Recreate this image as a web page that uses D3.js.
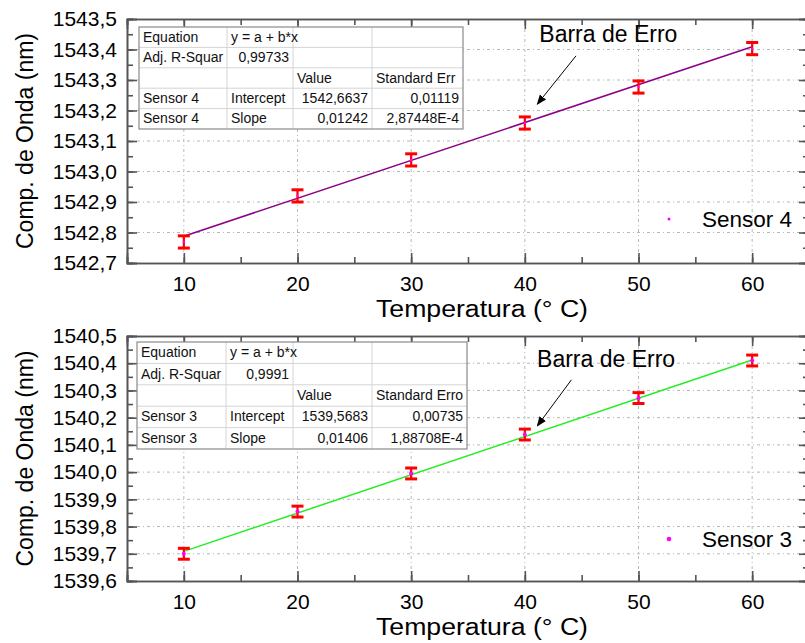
<!DOCTYPE html>
<html>
<head>
<meta charset="utf-8">
<script src="https://cdn.jsdelivr.net/npm/d3@7"></script>
<style>
  body { margin: 0; background: #fff; }
  text { font-family: "Liberation Sans", Arial, sans-serif; }
</style>
</head>
<body>
<div class="chart"></div>
<script>
// data
var temps = [10, 20, 30, 40, 50, 60];
var sensor4 = [1542.769, 1542.920, 1543.038, 1543.159, 1543.277, 1543.403];
var sensor4Err = [0.02, 0.02, 0.02, 0.02, 0.02, 0.02];
var sensor3 = [1539.700, 1539.855, 1539.995, 1540.138, 1540.272, 1540.410];
var sensor3Err = [0.02, 0.02, 0.02, 0.02, 0.02, 0.02];

// linear fit results (intercept, slope)
var fit4 = [1542.6637, 0.01242];
var fit3 = [1539.5683, 0.01406];

var xTicks = [10, 20, 30, 40, 50, 60];
var yTicks4 = [1542.7, 1542.8, 1542.9, 1543.0, 1543.1, 1543.2, 1543.3, 1543.4, 1543.5];
var yTicks3 = [1539.6, 1539.7, 1539.8, 1539.9, 1540.0, 1540.1, 1540.2, 1540.3, 1540.4, 1540.5];

var table4 = [
  ["Equation", "y = a + b*x", "", ""],
  ["Adj. R-Squar", "0,99733", "", ""],
  ["", "", "Value", "Standard Err"],
  ["Sensor 4", "Intercept", "1542,6637", "0,01119"],
  ["Sensor 4", "Slope", "0,01242", "2,87448E-4"]
];
var table3 = [
  ["Equation", "y = a + b*x", "", ""],
  ["Adj. R-Squar", "0,9991", "", ""],
  ["", "", "Value", "Standard Erro"],
  ["Sensor 3", "Intercept", "1539,5683", "0,00735"],
  ["Sensor 3", "Slope", "0,01406", "1,88708E-4"]
];

var svgWidth = 805, svgHeight = 643;
var svg = d3.select(".chart").append("svg")
  .attr("width", svgWidth)
  .attr("height", svgHeight);

var fmtY = function(d) { return d3.format(".1f")(d).replace(".", ","); };

function drawPanel(cfg) {
  var x = d3.scaleLinear().domain([5, 65]).range([127, 809]);
  var y = d3.scaleLinear().domain(cfg.yDomain).range([cfg.bottom, cfg.top]);
  var g = svg.append("g");

  // grid
  g.append("g").selectAll("line").data(xTicks).enter().append("line")
    .attr("x1", d => x(d)).attr("x2", d => x(d))
    .attr("y1", cfg.top).attr("y2", cfg.bottom)
    .attr("stroke", "#b8b8b8").attr("stroke-dasharray", "3,3,1,3");
  g.append("g").selectAll("line").data(cfg.yTicks.slice(1, -1)).enter().append("line")
    .attr("x1", 127).attr("x2", 809)
    .attr("y1", d => y(d)).attr("y2", d => y(d))
    .attr("stroke", "#b8b8b8").attr("stroke-dasharray", "3,3,1,3");

  // axes, ticks pointing inward
  var xMinor = d3.range(5, 66, 5);
  var yStep = 0.05;
  var yMinor = d3.range(0, Math.round((cfg.yDomain[1] - cfg.yDomain[0]) / yStep) + 1)
    .map(i => cfg.yDomain[0] + i * yStep);

  var bottomAxis = d3.axisBottom(x).tickValues(xTicks).tickSize(-10).tickPadding(13).tickFormat(d3.format("d"));
  var bottomMinor = d3.axisBottom(x).tickValues(xMinor).tickSize(-6).tickFormat("");
  var topAxis = d3.axisTop(x).tickValues(xTicks).tickSize(-10).tickFormat("");
  var topMinor = d3.axisTop(x).tickValues(xMinor).tickSize(-6).tickFormat("");
  var leftAxis = d3.axisLeft(y).tickValues(cfg.yTicks).tickSize(-10).tickPadding(10).tickFormat(fmtY);
  var leftMinor = d3.axisLeft(y).tickValues(yMinor).tickSize(-6).tickFormat("");
  var rightAxis = d3.axisRight(y).tickValues(cfg.yTicks).tickSize(-10).tickFormat("");
  var rightMinor = d3.axisRight(y).tickValues(yMinor).tickSize(-6).tickFormat("");

  function put(axis, tr) {
    var a = g.append("g").attr("transform", tr).call(axis);
    a.selectAll("path, line").attr("stroke", "#555").attr("stroke-width", 1.6);
    a.selectAll("text").attr("font-size", 21).attr("fill", "#000")
      .style("font-family", '"Liberation Sans", Arial, sans-serif');
    return a;
  }
  put(topMinor, "translate(0," + cfg.top + ")");
  put(topAxis, "translate(0," + cfg.top + ")");
  put(rightMinor, "translate(809,0)");
  put(rightAxis, "translate(809,0)");
  put(bottomMinor, "translate(0," + cfg.bottom + ")");
  put(bottomAxis, "translate(0," + cfg.bottom + ")");
  put(leftMinor, "translate(127,0)");
  put(leftAxis, "translate(127,0)");

  // axis titles
  g.append("text")
    .attr("transform", "translate(33," + ((cfg.top + cfg.bottom) / 2) + ") rotate(-90)")
    .attr("text-anchor", "middle").attr("font-size", 23)
    .text("Comp. de Onda (nm)");
  g.append("text")
    .attr("x", 482).attr("y", cfg.bottom + 54)
    .attr("text-anchor", "middle").attr("font-size", 23)
    .attr("textLength", 212).attr("lengthAdjust", "spacingAndGlyphs")
    .text("Temperatura (° C)");

  // fit line
  var fitLine = d3.line().x(d => x(d)).y(d => y(cfg.fit[0] + cfg.fit[1] * d));
  g.append("path").datum([temps[0], temps[temps.length - 1]])
    .attr("d", fitLine).attr("fill", "none")
    .attr("stroke", cfg.color).attr("stroke-width", 1.5);

  // error bars
  var pts = temps.map((t, i) => ({ t: t, v: cfg.values[i], e: cfg.errs[i] }));
  var eb = g.append("g").selectAll("g").data(pts).enter().append("g");
  eb.append("line")
    .attr("x1", d => x(d.t)).attr("x2", d => x(d.t))
    .attr("y1", d => y(d.v - d.e)).attr("y2", d => y(d.v + d.e))
    .attr("stroke", "#ff0000").attr("stroke-width", 2.2);
  eb.append("line")
    .attr("x1", d => x(d.t) - 6).attr("x2", d => x(d.t) + 6)
    .attr("y1", d => y(d.v - d.e)).attr("y2", d => y(d.v - d.e))
    .attr("stroke", "#ff0000").attr("stroke-width", 3);
  eb.append("line")
    .attr("x1", d => x(d.t) - 6).attr("x2", d => x(d.t) + 6)
    .attr("y1", d => y(d.v + d.e)).attr("y2", d => y(d.v + d.e))
    .attr("stroke", "#ff0000").attr("stroke-width", 3);
  eb.append("circle")
    .attr("cx", d => x(d.t)).attr("cy", d => y(d.v))
    .attr("r", cfg.dot).attr("fill", "#ff00ff");

  // legend
  g.append("circle").attr("cx", 669).attr("cy", cfg.legendY).attr("r", cfg.dot + 0.3).attr("fill", "#ff00ff");
  g.append("text").attr("x", 702).attr("y", cfg.legendY + 8).attr("font-size", 22.5).text(cfg.label);

  // annotation
  g.append("text").attr("x", x(cfg.note[0]) + 2).attr("y", y(cfg.note[1]))
    .attr("font-size", 23).text("Barra de Erro");
  g.append("line")
    .attr("x1", x(cfg.arrow[0])).attr("y1", y(cfg.arrow[1]))
    .attr("x2", x(cfg.arrow[2])).attr("y2", y(cfg.arrow[3]))
    .attr("stroke", "#000").attr("stroke-width", 1).attr("marker-end", "url(#arrow)");

  // fit table
  var tb = g.append("g").attr("transform", "translate(" + cfg.tableX + "," + cfg.tableY + ")");
  var colX = [0];
  cfg.colW.forEach(w => colX.push(colX[colX.length - 1] + w));
  var W = colX[colX.length - 1], H = cfg.rowH * cfg.table.length;
  tb.append("rect").attr("width", W).attr("height", H).attr("fill", "#fff");
  for (var r = 1; r < cfg.table.length; r++) {
    tb.append("line").attr("x1", 0).attr("x2", W).attr("y1", r * cfg.rowH).attr("y2", r * cfg.rowH)
      .attr("stroke", "#d4d4d4");
  }
  for (var c = 1; c < 4; c++) {
    tb.append("line").attr("x1", colX[c]).attr("x2", colX[c]).attr("y1", 0).attr("y2", H)
      .attr("stroke", "#d4d4d4");
  }
  tb.append("rect").attr("width", W).attr("height", H).attr("fill", "none")
    .attr("stroke", "#8a8a8a").attr("stroke-width", 1.2);
  cfg.table.forEach(function(row, ri) {
    row.forEach(function(cell, ci) {
      if (!cell) return;
      var rightAlign = /^[0-9]/.test(cell);
      tb.append("text")
        .attr("x", rightAlign ? colX[ci + 1] - 4 : colX[ci] + 4)
        .attr("y", ri * cfg.rowH + cfg.rowH / 2 + 4.5)
        .attr("text-anchor", rightAlign ? "end" : "start")
        .attr("font-size", 14).attr("fill", "#111")
        .text(cell);
    });
  });
}

svg.append("defs").append("marker")
  .attr("id", "arrow").attr("viewBox", "0 0 10 10")
  .attr("refX", 9).attr("refY", 5)
  .attr("markerWidth", 10).attr("markerHeight", 10)
  .attr("markerUnits", "userSpaceOnUse")
  .attr("orient", "auto")
  .append("path").attr("d", "M0,1 L10,5 L0,9 Z").attr("fill", "#000");

drawPanel({
  top: 19, bottom: 263, yDomain: [1542.7, 1543.5], yTicks: yTicks4,
  values: sensor4, errs: sensor4Err, fit: fit4, color: "#8b008b", dot: 1.2,
  label: "Sensor 4", legendY: 219,
  note: [41.1, 1543.425], arrow: [44.5, 1543.379, 41.1, 1543.221],
  table: table4, tableX: 139, tableY: 27, rowH: 20.4, colW: [88, 66, 79, 91]
});

drawPanel({
  top: 336, bottom: 581, yDomain: [1539.6, 1540.5], yTicks: yTicks3,
  values: sensor3, errs: sensor3Err, fit: fit3, color: "#22ee22", dot: 2,
  label: "Sensor 3", legendY: 539,
  note: [40.9, 1540.387], arrow: [44.1, 1540.339, 41.1, 1540.170],
  table: table3, tableX: 137, tableY: 342, rowH: 21.4, colW: [89, 67, 79, 95]
});
</script>
</body>
</html>
